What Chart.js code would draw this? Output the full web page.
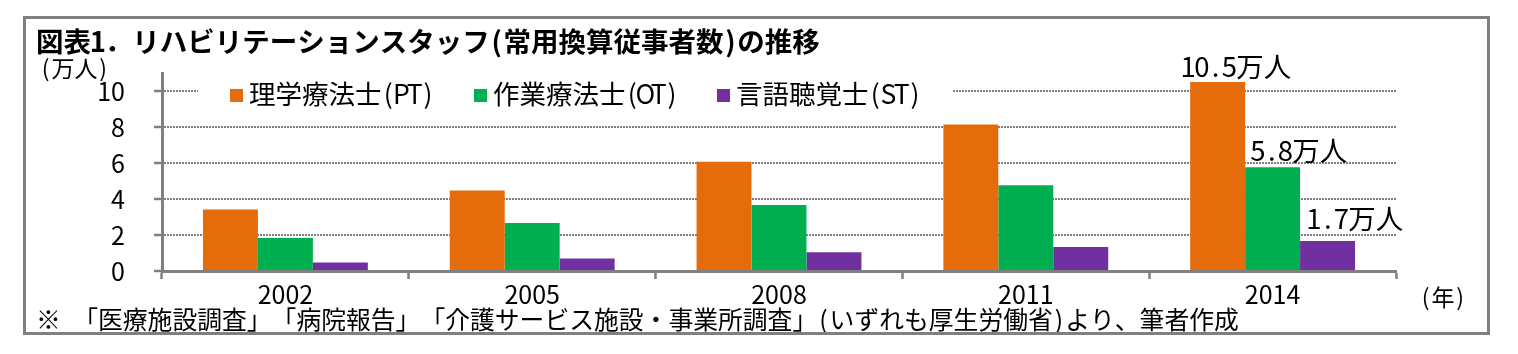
<!DOCTYPE html>
<html lang="ja">
<head>
<meta charset="utf-8">
<script src="https://cdn.jsdelivr.net/npm/chart.js@4.4.1/dist/chart.umd.min.js"></script>
<style>
  html, body { margin: 0; padding: 0; background: #fff; }
  #wrap { width: 1518px; height: 354px; }
</style>
</head>
<body>
<div id="wrap"><canvas id="chart" width="1518" height="354"></canvas></div>
<script>
const years = ['2002', '2005', '2008', '2011', '2014'];
const seriesNames = ['理学療法士(PT)', '作業療法士(OT)', '言語聴覚士(ST)'];
const ptValues = [3.41, 4.47, 6.07, 8.14, 10.5];
const otValues = [1.83, 2.66, 3.66, 4.77, 5.76];
const stValues = [0.47, 0.70, 1.04, 1.33, 1.67];
const yTicks = [0, 2, 4, 6, 8, 10];
const lastYearLabels = ['10.5万人', '5.8万人', '1.7万人'];
const titleText = '図表1．リハビリテーションスタッフ(常用換算従事者数)の推移';
const unitText = '(万人)';
const yearUnitText = '(年)';
const noteText = '※ 「医療施設調査」「病院報告」「介護サービス施設・事業所調査」(いずれも厚生労働省)より、筆者作成';

const FONT = '"Noto Sans CJK JP", "Noto Sans", sans-serif';
const GRAY = '#808080';
const colors = ['#E46C0A', '#00B050', '#7030A0'];

// where the 2014 labels sit relative to their bar (left edge / top)
const labelDx = [-9, 6, 7];
const labelDy = [-15, -17, -22];

// the source uses a fixed-pitch gothic: full-width cells of 1em, ascii cells of 0.5em
function drawMono(ctx, text, x, y, size) {
    let cx = x;
    ctx.textAlign = 'center';
    for (const ch of text) {
        const w = ch.charCodeAt(0) < 0x80 ? size / 2 : size;
        ctx.fillText(ch, cx + w / 2, y);
        cx += w;
    }
    return cx;
}

const decor = {
    id: 'decor',
    beforeDraw(chart) {
        const ctx = chart.ctx;
        ctx.save();
        ctx.fillStyle = '#fff';
        ctx.fillRect(0, 0, chart.width, chart.height);
        ctx.restore();
    },
    afterDatasetsDraw(chart) {
        const ctx = chart.ctx;
        ctx.save();
        ctx.textBaseline = 'middle';

        // legend sits inside the plot, on a white box over the top gridline
        ctx.fillStyle = '#fff';
        ctx.fillRect(198, 76, 755, 36);
        const legendX = [230, 474, 717];
        ctx.font = '26.5px ' + FONT;
        chart.data.datasets.forEach((ds, i) => {
            ctx.fillStyle = ds.backgroundColor;
            ctx.fillRect(legendX[i], 89, 13, 13);
            ctx.fillStyle = '#000';
            drawMono(ctx, ds.label, legendX[i] + 19, 94, 26.5);
        });

        // labels above the 2014 bars
        const last = years.length - 1;
        ctx.font = '27.5px ' + FONT;
        chart.data.datasets.forEach((ds, i) => {
            const bar = chart.getDatasetMeta(i).data[last];
            drawMono(ctx, lastYearLabels[i], bar.x - bar.width / 2 + labelDx[i], bar.y + labelDy[i], 27.5);
        });

        // title, units, note
        ctx.font = 'bold 27.5px ' + FONT;
        drawMono(ctx, titleText, 36, 42, 27.5);
        ctx.font = '23px ' + FONT;
        drawMono(ctx, unitText, 40, 68, 23);
        drawMono(ctx, yearUnitText, 1420, 297, 23);
        ctx.font = '24.8px ' + FONT;
        drawMono(ctx, noteText, 36, 320, 24.8);

        // outer frame
        ctx.strokeStyle = GRAY;
        ctx.lineWidth = 3;
        ctx.strokeRect(24.5, 17.5, 1464, 316);
        ctx.restore();
    }
};

new Chart(document.getElementById('chart'), {
    type: 'bar',
    data: {
        labels: years,
        datasets: [
            { label: seriesNames[0], data: ptValues, backgroundColor: colors[0] },
            { label: seriesNames[1], data: otValues, backgroundColor: colors[1] },
            { label: seriesNames[2], data: stValues, backgroundColor: colors[2] }
        ]
    },
    options: {
        responsive: false,
        animation: false,
        layout: { padding: { left: 0, right: 122, top: 73, bottom: 0 } },
        datasets: { bar: { categoryPercentage: 0.668, barPercentage: 1, borderWidth: 0 } },
        plugins: {
            legend: { display: false },
            tooltip: { enabled: false }
        },
        scales: {
            x: {
                afterFit(s) { s.height = 83; },
                grid: {
                    offset: true,
                    drawOnChartArea: false,
                    tickLength: 8,
                    tickColor: GRAY,
                    tickWidth: 2.5
                },
                border: { color: GRAY, width: 3 },
                ticks: { color: '#000', font: { family: FONT, size: 25 }, padding: 0 }
            },
            y: {
                min: 0,
                max: 11,
                afterFit(s) { s.width = 162; },
                afterBuildTicks(s) { s.ticks = yTicks.map(v => ({ value: v })); },
                grid: {
                    color: GRAY,
                    lineWidth: 2,
                    tickLength: 8,
                    tickColor: GRAY,
                    tickWidth: 2.5
                },
                border: { color: GRAY, width: 3, dash: [2, 1] },
                ticks: { color: '#000', font: { family: FONT, size: 25 }, padding: 29 }
            }
        }
    },
    plugins: [decor]
});
</script>
</body>
</html>
